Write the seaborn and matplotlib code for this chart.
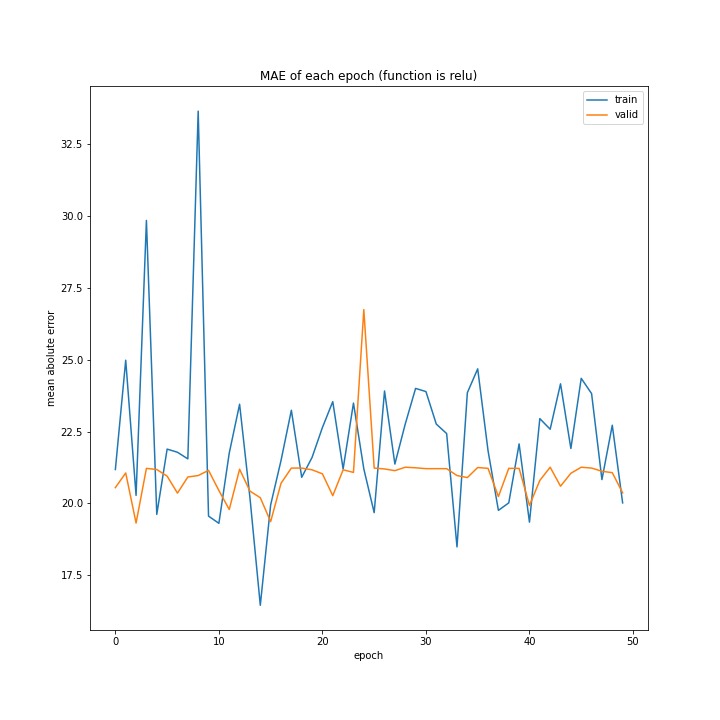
import matplotlib
matplotlib.use("Agg")
import matplotlib.pyplot as plt
import seaborn as sns
import numpy as np

epochs = list(range(50))
train = [21.18, 24.98, 20.28, 29.84, 19.62, 21.89, 21.78, 21.55, 33.64, 19.56,
         19.31, 21.75, 23.45, 20.2, 16.46, 19.95, 21.49, 23.24, 20.91, 21.6,
         22.64, 23.54, 21.2, 23.49, 21.2, 19.68, 23.91, 21.37, 22.76, 24.0,
         23.89, 22.76, 22.43, 18.49, 23.85, 24.68, 21.83, 19.76, 20.02, 22.07,
         19.35, 22.95, 22.58, 24.16, 21.91, 24.35, 23.82, 20.83, 22.72, 20.02]
valid = [20.55, 21.06, 19.32, 21.22, 21.18, 20.95, 20.36, 20.92, 20.97, 21.15,
         20.45, 19.79, 21.19, 20.43, 20.2, 19.37, 20.7, 21.23, 21.23, 21.17,
         21.03, 20.27, 21.17, 21.08, 26.74, 21.23, 21.2, 21.14, 21.26, 21.24,
         21.21, 21.21, 21.21, 20.97, 20.9, 21.25, 21.22, 20.24, 21.22, 21.22,
         19.93, 20.8, 21.26, 20.6, 21.05, 21.26, 21.23, 21.12, 21.07, 20.37]

fig, ax = plt.subplots(figsize=(10, 10), dpi=72)
fig.subplots_adjust(left=0.125, right=0.9, bottom=0.125, top=0.88)
sns.lineplot(x=epochs, y=train, label="train", color="#1f77b4", ax=ax)
sns.lineplot(x=epochs, y=valid, label="valid", color="#ff7f0e", ax=ax)
ax.set_title("MAE of each epoch (function is relu)")
ax.set_xlabel("epoch")
ax.set_ylabel("mean abolute error")
ax.legend(loc="upper right")
fig.savefig("out.png", dpi=72)
